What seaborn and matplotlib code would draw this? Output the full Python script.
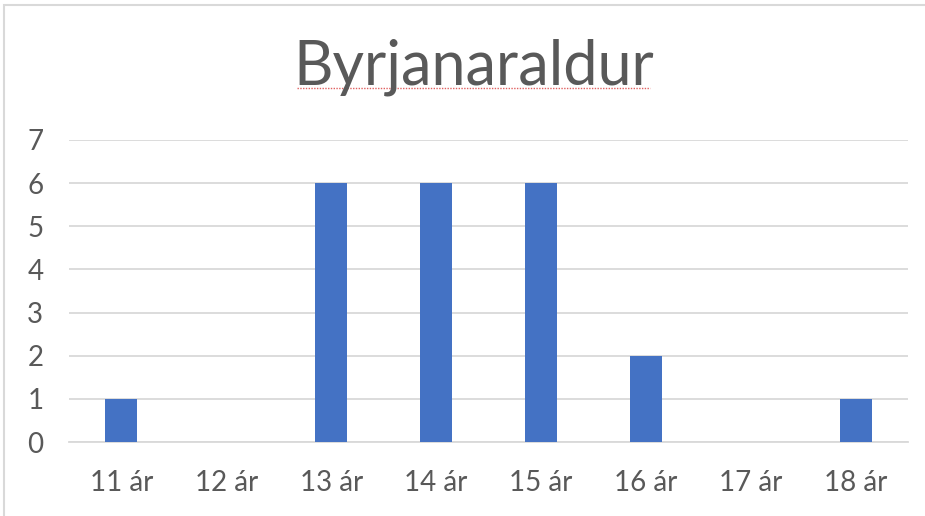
import pandas as pd
import matplotlib.pyplot as plt
import matplotlib.patches as mpatches
import matplotlib.lines as mlines
import seaborn as sns

# Data
ages = ['11 ár', '12 ár', '13 ár', '14 ár', '15 ár', '16 ár', '17 ár', '18 ár']
counts = [1, 0, 6, 6, 6, 2, 0, 1]
yticks = [0, 1, 2, 3, 4, 5, 6, 7]

df = pd.DataFrame({'age': ages, 'count': counts})

sns.set_theme(style='white')
plt.rcParams['font.family'] = ['Lato', 'DejaVu Sans']

text_color = '#595959'
grid_color = '#D9D9D9'
bar_color = '#4472C4'

fig = plt.figure(figsize=(9.25, 5.16), dpi=100)
ax = fig.add_axes([0.0746, 0.1434, 0.907, 0.5853])

sns.barplot(data=df, x='age', y='count', color=bar_color, width=0.305,
            saturation=1, linewidth=0, ax=ax, zorder=3)

ax.set_ylim(0, 7)
ax.set_xlim(-0.5, len(ages) - 0.5)
ax.set_yticks(yticks)
ax.yaxis.grid(True, color=grid_color, linewidth=1.3, zorder=0)
ax.set_axisbelow(True)
for s in ['top', 'right', 'left']:
    ax.spines[s].set_visible(False)
ax.spines['bottom'].set_color(grid_color)
ax.spines['bottom'].set_linewidth(1.3)
ax.tick_params(axis='both', colors=text_color, labelsize=20, length=0)
ax.tick_params(axis='x', pad=20)
ax.tick_params(axis='y', pad=30)
for lbl in ax.get_yticklabels():
    lbl.set_horizontalalignment('left')
ax.set_xlabel('')
ax.set_ylabel('')

fig.suptitle('Byrjanaraldur', color=text_color, fontsize=44, y=0.925, x=0.512)

# spell-check squiggle under title
fig.add_artist(mlines.Line2D([0.321, 0.703], [0.830, 0.830], color='#E06060',
                             linewidth=1, linestyle=(0, (1, 1))))

# chart border
fig.add_artist(mpatches.Rectangle((0.004, -0.01), 1.1, 1 - 0.0097 + 0.01,
                                  fill=False, edgecolor=grid_color, linewidth=1.5,
                                  transform=fig.transFigure))

fig.savefig('out.png', dpi=100)
